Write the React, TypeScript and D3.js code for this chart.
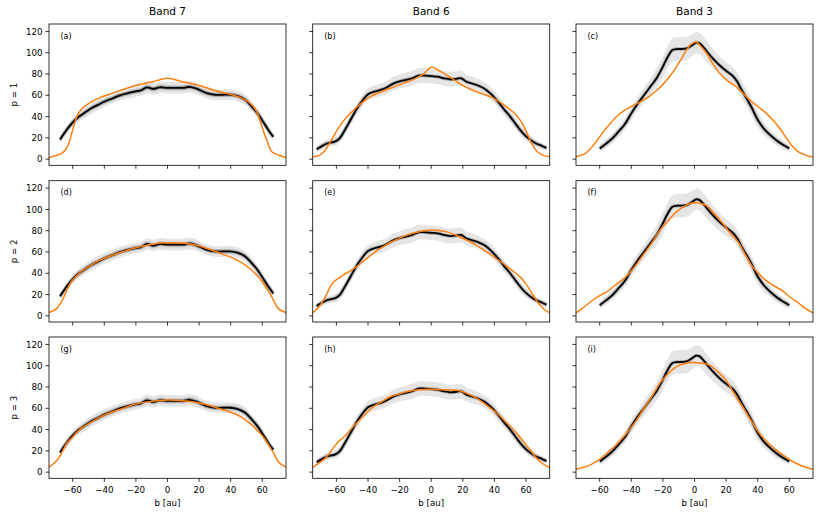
import React from "react";
import * as d3 from "d3";

// ---------- data ----------
const bandTitles = ["Band 7", "Band 6", "Band 3"];
const rowLabels = ["p = 1", "p = 2", "p = 3"];
const panelTags = ["(a)", "(b)", "(c)", "(d)", "(e)", "(f)", "(g)", "(h)", "(i)"];
const xTicks = [-60, -40, -20, 0, 20, 40, 60];
const yTicks = [0, 20, 40, 60, 80, 100, 120];

// observed profiles (black) per band, same across rows
const band7X = [-68, -65, -62, -59, -56, -52, -48, -44, -40, -35, -30, -25, -21, -17, -13, -9, -5, 0, 5, 10, 14, 18, 21, 25, 30, 35, 40, 45, 49, 53, 57, 61, 64, 67];
const band7Y = [18.5, 25, 31, 36, 40, 44, 48, 51, 54, 57, 60, 62, 63.5, 64.5, 67.5, 66, 67.5, 67, 67, 67, 68, 66.5, 64.5, 62, 60.5, 60.5, 60.5, 59, 56, 50, 43, 34, 27, 21];
const band7Err = [3.5, 4, 4, 4.5, 4.5, 5, 5, 5, 5, 5, 5, 5, 5, 5, 5.5, 5.5, 5.5, 5.5, 5.5, 5.5, 5.5, 5.5, 5, 5, 5, 5, 5, 5, 5, 4.5, 4.5, 4, 4, 3.5];

const band6X = [-72.5, -70, -67, -64, -61, -58, -55, -51, -47, -43, -40, -36, -32, -28, -24, -20, -16, -12, -8, -4, 0, 4, 8, 12, 16, 19, 22, 26, 30, 34, 38, 42, 46, 50, 54, 58, 62, 66, 70, 73];
const band6Y = [9.3, 11.5, 14, 15.5, 16.5, 19.5, 26.5, 37, 47.5, 56, 61, 63.5, 65, 67.5, 71, 73, 74.5, 76, 78.5, 78.5, 78, 77.5, 76, 75, 75.5, 76, 73, 71, 69, 66, 61, 54.5, 47, 40, 32, 24.5, 19, 15, 12.5, 10.5];
const band6Err = [3, 3, 3.5, 3.5, 4, 4, 4.5, 5, 5, 5.5, 5.5, 6, 6, 6, 6.5, 6.5, 7, 7, 7, 7, 7, 7, 7, 7, 7, 7, 6.5, 6.5, 6, 6, 6, 5.5, 5.5, 5, 5, 4.5, 4, 3.5, 3, 3];

const band3X = [-60, -56, -52, -48, -44, -40, -36, -32, -28, -24, -20, -17, -14, -11, -8, -5, -2, 1, 3, 6, 9, 12, 16, 20, 24, 27, 30, 33, 36, 40, 44, 48, 52, 56, 60];
const band3Y = [10, 14.5, 19.5, 26, 33, 43, 52, 60, 68, 76, 87, 96, 102.5, 103.5, 103.5, 104, 106.5, 109.5, 109, 104.5, 99, 94, 88, 83, 78.5, 73, 64.5, 57, 49, 37, 28.5, 22.5, 17.5, 13.5, 10];
const band3Err = [3.5, 4, 4.5, 5, 5.5, 6, 6.5, 7, 8, 9, 10, 10.5, 11, 11, 11, 11, 10.5, 10, 10, 10, 9.5, 9, 8.5, 8, 8, 8, 8, 8, 7.5, 7, 6, 5, 4.5, 4, 3.5];

// model profiles (orange), one per panel: [b, value]
const modelA = [[-75, 1.6], [-71, 3.2], [-67, 5.5], [-64, 10], [-62, 17], [-60.5, 25], [-58.5, 35], [-57, 41.5], [-55, 46], [-53, 49], [-48, 54], [-42.5, 58], [-35, 62], [-28, 65.5], [-21.5, 68.8], [-10, 72.5], [0, 76], [10, 72.5], [20.7, 69], [30, 64.5], [39.6, 61], [46, 58], [51, 54], [54, 50], [57, 43], [59, 34], [61, 25], [62.8, 18], [64.5, 11], [66, 7], [69, 4.5], [72, 3], [75, 1.6]];
const modelB = [[-75, 2.2], [-72, 3], [-69.5, 4.8], [-67, 8.5], [-64.5, 14.5], [-62, 21], [-59, 28.5], [-56, 35], [-52, 42], [-47, 49], [-43, 54], [-38.6, 58.7], [-32, 63], [-26, 66.6], [-18, 71], [-11.2, 75], [-5, 80], [0.4, 86.5], [4, 84], [8, 80.5], [12, 77], [18, 71], [24.7, 65.7], [31, 62], [37.3, 58.7], [42, 55], [47.8, 49], [52, 44], [56.3, 36.7], [59.5, 28], [62.6, 18], [65, 11], [67.9, 6], [71, 3.5], [75, 2.2]];
const modelC = [[-75, 2.2], [-72, 3.5], [-69, 5.5], [-66, 9.5], [-63, 15], [-60, 21], [-57, 27], [-53, 34], [-49, 40.5], [-44, 46], [-38.7, 50.5], [-33, 55], [-28.2, 59.5], [-24, 64.5], [-19.8, 70.5], [-15, 79], [-11.4, 87], [-8, 95], [-5, 102.7], [-2, 108], [1.3, 110], [4, 106], [7.6, 99.6], [11, 91], [16, 80.8], [21, 73.5], [26.5, 68], [30, 63], [35, 55.6], [40, 49.5], [45.5, 43], [50, 36], [53.9, 29], [58, 20], [62.3, 11.6], [65.5, 7], [68.7, 4.7], [72, 3], [75, 2.2]];
const modelD = [[-75, 3.2], [-72, 5], [-70, 7], [-68, 11], [-66, 16.3], [-64, 23], [-61.6, 30.4], [-58, 37], [-53.3, 43], [-48, 48], [-42.8, 52.3], [-35, 57], [-28, 60.5], [-21.7, 63.3], [-13, 66.3], [-4.6, 68.5], [5, 68.7], [12.3, 68], [18, 66.5], [25, 63.3], [33, 59], [41.8, 54], [47, 50], [52, 44.5], [56, 39], [60.7, 30.4], [63.5, 24], [66, 17.8], [68, 12], [70, 7], [72.5, 4.5], [75, 3.2]];
const modelE = [[-75, 3], [-72.5, 6], [-70.3, 10], [-68, 15], [-66, 21], [-64, 27], [-61.9, 31.5], [-58.5, 35.5], [-55.6, 38.5], [-51, 42.5], [-47, 46.5], [-40.8, 54], [-36.5, 59], [-31, 64.5], [-26, 69], [-20, 73], [-15.5, 75.8], [-9, 78.5], [-2.8, 80.5], [4, 80.5], [10, 78.9], [16, 75.5], [22.6, 71], [29, 66], [35.2, 60], [40, 55], [45.7, 49], [51, 43], [56.3, 36.6], [59.5, 31], [62.6, 24], [66, 16], [68.9, 10], [72, 5.5], [75, 2.8]];
const modelF = [[-75, 2.8], [-71, 7], [-66, 13], [-60, 19], [-55.5, 22.5], [-50, 29], [-43, 37.2], [-38, 46], [-32.6, 57], [-27, 68.5], [-22, 80.3], [-17, 89], [-11.6, 97.5], [-7, 102.5], [-3.2, 105.3], [1, 106.2], [4, 105.5], [7.4, 103.7], [12, 97], [18, 86.6], [23, 77], [28.4, 67.8], [32, 58], [36.8, 46], [41, 39], [45.2, 33.4], [50, 28.5], [55.7, 23.4], [61, 17], [66.2, 11.6], [70, 7], [75, 2.8]];
const modelG = [[-75, 4.7], [-72.5, 7.5], [-70, 10.9], [-67, 18], [-63.8, 27], [-60, 33], [-57.2, 38], [-50, 45.5], [-42.5, 52], [-35, 56.5], [-28, 60], [-21.5, 63.5], [-10, 66.5], [0, 67.8], [10, 67], [20.7, 64.7], [30, 61], [41.8, 55.3], [47, 51.5], [52, 46], [56, 40.5], [60.4, 33.4], [63, 28], [66, 21], [68, 15.5], [70, 10], [72.5, 6.8], [75, 4.7]];
const modelH = [[-75, 4.3], [-72, 7.5], [-68.2, 11.5], [-64, 18.5], [-59.8, 27], [-55, 33.5], [-51, 40], [-47, 46.5], [-42, 54], [-36.5, 61.5], [-31, 66.5], [-26, 70.9], [-20, 73.5], [-15.5, 75.5], [-8, 77.5], [-0.7, 78], [8, 77.5], [18.4, 76.2], [24, 73], [29, 69.4], [35, 63], [41.6, 55.3], [48, 46], [54.2, 36.5], [58.5, 28.5], [62.6, 20.9], [66, 14.5], [68.9, 10], [72, 6.5], [75, 4.3]];
const modelI = [[-75, 2.8], [-70, 4.5], [-66, 6.8], [-60, 12], [-55.5, 17.8], [-50, 25], [-43, 36.5], [-38, 46], [-32.6, 58.4], [-27, 71], [-22, 83.4], [-17, 92], [-11.6, 99], [-6, 102], [-1, 103], [4, 102.5], [9.5, 100.6], [15, 94], [20, 86.5], [25, 74], [30.5, 61.5], [36, 48], [41, 36.5], [46, 28], [51.6, 20.9], [57, 15], [62.1, 10], [67, 6.5], [71, 4.3], [75, 2.8]];

const observed = [
  { x: band7X, y: band7Y, e: band7Err, inner: true },
  { x: band6X, y: band6Y, e: band6Err, inner: false },
  { x: band3X, y: band3Y, e: band3Err, inner: false },
];
const models = [
  [modelA, modelB, modelC],
  [modelD, modelE, modelF],
  [modelG, modelH, modelI],
];

// ---------- layout ----------
const W = 830;
const H = 519;
const colLeft = [49, 312.7, 576];
const rowTop = [24, 180.7, 337];
const PW = 237;
const PH = 141.3;
const FONT = "DejaVu Sans, sans-serif";
const ORANGE = "#ff7f0e";

const fmt = (v: number) => (v < 0 ? "\u2212" + Math.abs(v) : String(v));

function Panel({ r, c }: { r: number; c: number }) {
  const x0 = colLeft[c];
  const y0 = rowTop[r];
  const x = d3.scaleLinear().domain([-75, 75]).range([x0, x0 + PW]);
  const y = d3.scaleLinear().domain([-5.8, 127]).range([y0 + PH, y0]);
  const obs = observed[c];
  const pts = obs.x.map((b, i) => ({ b, v: obs.y[i], e: obs.e[i] }));
  const curve = d3.curveCatmullRom.alpha(0.5);
  const outer = d3
    .area<any>()
    .x((d) => x(d.b))
    .y0((d) => y(d.v - d.e))
    .y1((d) => y(d.v + d.e))
    .curve(curve);
  const inner = d3
    .area<any>()
    .x((d) => x(d.b))
    .y0((d) => y(d.v - d.e * 0.5))
    .y1((d) => y(d.v + d.e * 0.5))
    .curve(curve);
  const line = d3
    .line<any>()
    .x((d) => x(d.b))
    .y((d) => y(d.v))
    .curve(curve);
  const mline = d3
    .line<number[]>()
    .x((d) => x(d[0]))
    .y((d) => y(d[1]))
    .curve(d3.curveCatmullRom.alpha(0.5));
  const clipId = `clip-${r}-${c}`;
  const idx = r * 3 + c;
  return (
    <g>
      <defs>
        <clipPath id={clipId}>
          <rect x={x0} y={y0} width={PW} height={PH} />
        </clipPath>
      </defs>
      <g clipPath={`url(#${clipId})`}>
        <path d={outer(pts) || ""} fill="#000" fillOpacity={0.1} stroke="none" />
        {obs.inner && <path d={inner(pts) || ""} fill="#000" fillOpacity={0.1} stroke="none" />}
        <path d={line(pts) || ""} fill="none" stroke="#666" strokeOpacity={0.45} strokeWidth={3.6} />
        <path d={line(pts) || ""} fill="none" stroke="#000" strokeWidth={1.8} strokeLinejoin="round" />
        <path d={mline(models[r][c]) || ""} fill="none" stroke={ORANGE} strokeWidth={1.5} />
      </g>
      <rect x={x0} y={y0} width={PW} height={PH} fill="none" stroke="#000" strokeWidth={0.8} />
      {xTicks.map((t) => (
        <g key={"xt" + t}>
          <line x1={x(t)} x2={x(t)} y1={y0 + PH} y2={y0 + PH + 3.5} stroke="#000" strokeWidth={0.8} />
          {r === 2 && (
            <text x={x(t)} y={y0 + PH + 14.3} textAnchor="middle" fontSize={8.7} fontFamily={FONT} fill="#000">
              {fmt(t)}
            </text>
          )}
        </g>
      ))}
      {yTicks.map((t) => (
        <g key={"yt" + t}>
          <line x1={x0 - 3.5} x2={x0} y1={y(t)} y2={y(t)} stroke="#000" strokeWidth={0.8} />
          {c === 0 && (
            <text x={x0 - 6.5} y={y(t) + 3.1} textAnchor="end" fontSize={8.7} fontFamily={FONT} fill="#000">
              {fmt(t)}
            </text>
          )}
        </g>
      ))}
      <text x={x0 + 11.5} y={y0 + 14.5} fontSize={8} fontFamily={FONT} fill="#000">
        {panelTags[idx]}
      </text>
      {r === 0 && (
        <text x={x0 + PW / 2} y={y0 - 9} textAnchor="middle" fontSize={10.5} fontFamily={FONT} fill="#000">
          {bandTitles[c]}
        </text>
      )}
      {c === 0 && (
        <text
          transform={`translate(17,${y0 + PH / 2}) rotate(-90)`}
          textAnchor="middle"
          fontSize={8.7}
          fontFamily={FONT}
          fill="#000"
        >
          {rowLabels[r]}
        </text>
      )}
      {r === 2 && (
        <text x={x0 + PW / 2} y={y0 + PH + 28} textAnchor="middle" fontSize={8.7} fontFamily={FONT} fill="#000">
          b [au]
        </text>
      )}
    </g>
  );
}

export default function App() {
  const cells: JSX.Element[] = [];
  for (let r = 0; r < 3; r++) for (let c = 0; c < 3; c++) cells.push(<Panel key={`${r}-${c}`} r={r} c={c} />);
  return (
    <svg
      width={W}
      height={H}
      viewBox={`0 0 ${W} ${H}`}
      style={{ position: "fixed", left: 0, top: 0, background: "#fff" }}
    >
      <rect width={W} height={H} fill="#fff" />
      {cells}
    </svg>
  );
}
